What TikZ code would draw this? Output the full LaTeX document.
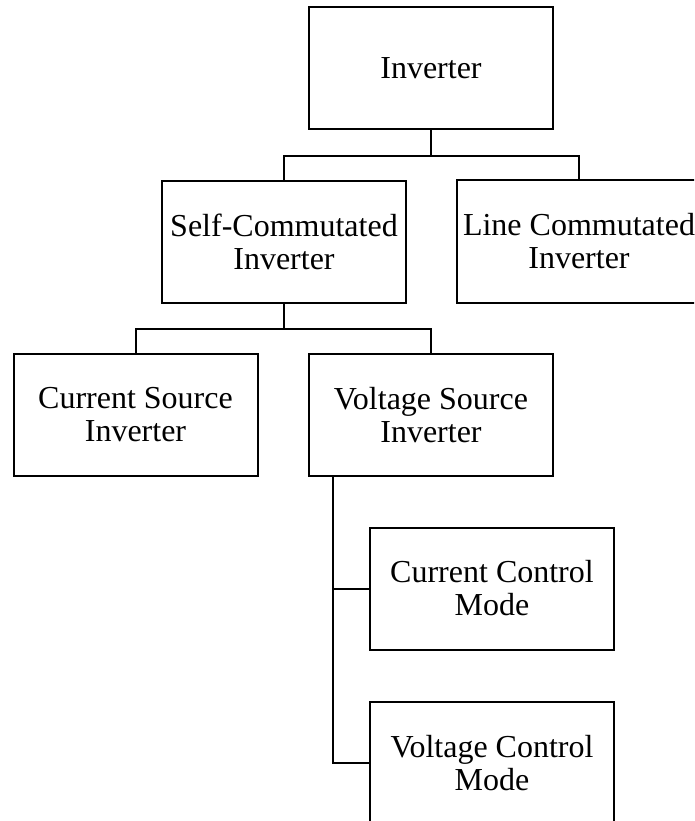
\documentclass[tikz,border=0pt]{standalone}
\usepackage{fontspec}
\setmainfont{Liberation Serif}
\usetikzlibrary{calc}
\begin{document}
\begin{tikzpicture}[x=1pt,y=-1pt,
  blk/.style={draw=black, line width=2pt, minimum width=244pt, minimum height=122pt,
    inner sep=0pt, align=center, font=\fontsize{32}{33}\selectfont},
  conn/.style={draw=black, line width=2pt}]
\useasboundingbox (0,0) rectangle (694,821);
\clip (0,0) rectangle (694,821);
\fill[white] (0,0) rectangle (694,821);
\node[blk] (inv) at (431,68) {Inverter};
\node[blk] (sc) at (284,242) {Self-Commutated\\Inverter};
\node[blk] (lc) at (579,241.5) {Line Commutated\\Inverter};
\node[blk] (csi) at (135.5,414.5) {Current Source\\Inverter};
\node[blk] (vsi) at (431,415) {Voltage Source\\Inverter};
\node[blk] (ccm) at (492,588.5) {Current Control\\Mode};
\node[blk] (vcm) at (492,763) {Voltage Control\\Mode};
\coordinate (j1) at ($(inv.south)+(0,26)$);
\draw[conn] (inv.south) -- (j1);
\draw[conn] (j1) -| (sc.north);
\draw[conn] (j1) -| (lc.north);
\coordinate (j2) at ($(sc.south)+(0,25)$);
\draw[conn] (sc.south) -- (j2);
\draw[conn] (j2) -| (csi.north);
\draw[conn] (j2) -| (vsi.north);
\coordinate (v0) at ($(vsi.south west)+(25,0)$);
\draw[conn] (v0) |- (vcm.west);
\draw[conn] (v0 |- ccm.west) -- (ccm.west);
\end{tikzpicture}
\end{document}
